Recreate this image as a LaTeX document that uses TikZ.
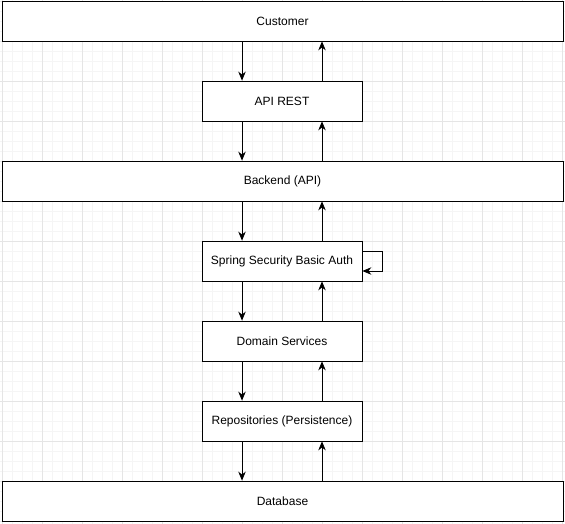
\documentclass[tikz,border=0pt]{standalone}
\usepackage{fontspec}
\setmainfont{Liberation Sans}
\usetikzlibrary{arrows.meta}
\tikzset{
  layer/.style={draw, thick, black, fill=white, minimum height=40pt, inner sep=0pt, font=\fontsize{12}{14}\selectfont},
  wide/.style={layer, minimum width=561pt},
  narrow/.style={layer, minimum width=160pt},
  flow/.style={thick, -{Stealth[length=9pt,width=7.5pt]}},
}
\begin{document}
\begin{tikzpicture}[x=1pt,y=-1pt]
\useasboundingbox (0,0) rectangle (565,524);
\draw[black!4, line width=0.5pt, xstep=10pt, ystep=10pt, shift={(2,1)}] (-2,-1) grid (563,523);
\foreach \x in {2,42,...,562} \draw[black!10, line width=0.6pt] (\x,0) -- (\x,524);
\foreach \y in {1,41,...,521} \draw[black!10, line width=0.6pt] (0,\y) -- (565,\y);
% layers
\node[wide]   (customer) at (282.5,21)  {Customer};
\node[narrow] (api)      at (282,101)   {API REST};
\node[wide]   (backend)  at (282.5,181) {Backend (API)};
\node[narrow] (security) at (282,261)   {Spring Security Basic Auth};
\node[narrow] (domain)   at (282,341)   {Domain Services};
\node[narrow] (repo)     at (282,421)   {Repositories (Persistence)};
\node[wide]   (database) at (282.5,501) {Database};
% requests going down
\draw[flow] ([xshift=-40pt]api.north |- customer.south) -- ([xshift=-40pt]api.north);
\draw[flow] ([xshift=-40pt]api.south) -- ([xshift=-40pt]api.south |- backend.north);
\draw[flow] ([xshift=-40pt]security.north |- backend.south) -- ([xshift=-40pt]security.north);
\draw[flow] ([xshift=-40pt]security.south) -- ([xshift=-40pt]domain.north);
\draw[flow] ([xshift=-40pt]domain.south) -- ([xshift=-40pt]repo.north);
\draw[flow] ([xshift=-40pt]repo.south) -- ([xshift=-40pt]repo.south |- database.north);
% responses going up
\draw[flow] ([xshift=40pt]api.north) -- ([xshift=40pt]api.north |- customer.south);
\draw[flow] ([xshift=40pt]api.south |- backend.north) -- ([xshift=40pt]api.south);
\draw[flow] ([xshift=40pt]security.north) -- ([xshift=40pt]security.north |- backend.south);
\draw[flow] ([xshift=40pt]domain.north) -- ([xshift=40pt]security.south);
\draw[flow] ([xshift=40pt]repo.north) -- ([xshift=40pt]domain.south);
\draw[flow] ([xshift=40pt]repo.south |- database.north) -- ([xshift=40pt]repo.south);
% auth check loop
\draw[flow] ([yshift=10pt]security.east) -- ++(20,0) |- ([yshift=-10pt]security.east);
\end{tikzpicture}
\end{document}
